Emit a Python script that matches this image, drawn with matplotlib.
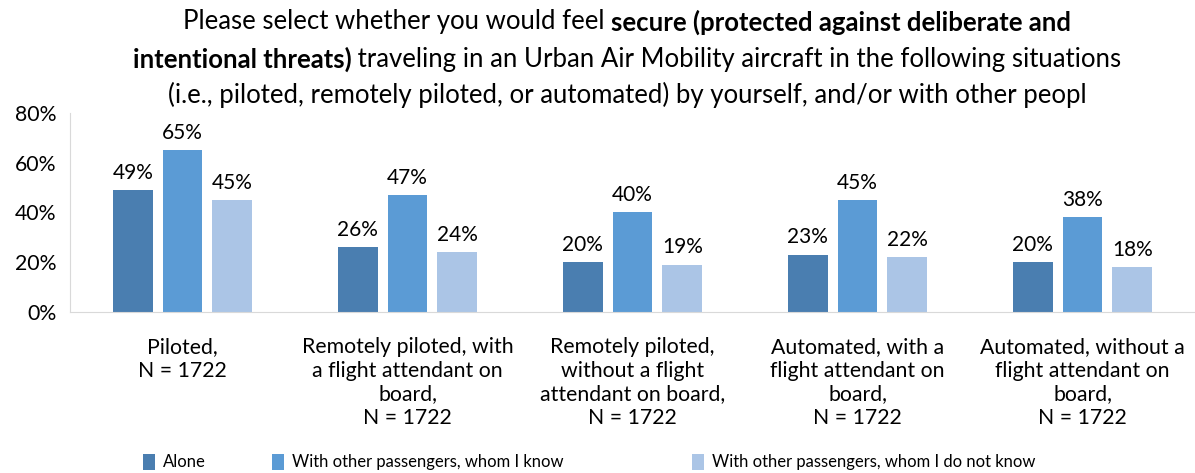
import numpy as np
import matplotlib.pyplot as plt

plt.rcParams['font.family'] = ['Lato', 'DejaVu Sans']

categories = ["Piloted,\nN = 1722",
              "Remotely piloted, with\na flight attendant on\nboard,\nN = 1722",
              "Remotely piloted,\nwithout a flight\nattendant on board,\nN = 1722",
              "Automated, with a\nflight attendant on\nboard,\nN = 1722",
              "Automated, without a\nflight attendant on\nboard,\nN = 1722"]
series_names = ["Alone", "With other passengers, whom I know",
                "With other passengers, whom I do not know"]
alone = [49, 26, 20, 23, 20]
know = [65, 47, 40, 45, 38]
not_know = [45, 24, 19, 22, 18]
colors = ["#4A7EB0", "#5B9BD5", "#ABC5E6"]

fig = plt.figure(figsize=(11.95, 4.73), dpi=100)
ax = fig.add_axes([0.0586, 0.3404, 0.9414, 0.4207])

x = np.arange(len(categories))
width = 0.177
step = 0.221
handles = []
for k, vals in enumerate([alone, know, not_know]):
    b = ax.bar(x + (k - 1) * step, vals, width, color=colors[k], label=series_names[k])
    handles.append(b)
    for xi, v in zip(x + (k - 1) * step, vals):
        ax.text(xi, v + 3.0, f"{v}%", ha='center', va='bottom', fontsize=15)

ax.set_xlim(-0.5, 4.5)
ax.set_ylim(0, 80)
ax.set_yticks([0, 20, 40, 60, 80])
ax.set_yticklabels([f"{t}%" for t in [0, 20, 40, 60, 80]], fontsize=15.3)
ax.set_xticks(x)
ax.set_xticklabels(categories, fontsize=15.3, linespacing=1.22)
ax.tick_params(length=0)
ax.tick_params(axis='y', pad=10)
ax.tick_params(axis='x', pad=18)
for s in ['top', 'right']:
    ax.spines[s].set_visible(False)
for s in ['left', 'bottom']:
    ax.spines[s].set_color('#D9D9D9')

# title with bold segments, laid out piece by piece
title_lines = [
    [("Please select whether you would feel ", 'normal'),
     ("secure (protected against deliberate and", 'bold')],
    [("intentional threats)", 'bold'),
     (" traveling in an Urban Air Mobility aircraft in the following situations", 'normal')],
    [("(i.e., piloted, remotely piloted, or automated) by yourself, and/or with other peopl", 'normal')],
]
renderer = fig.canvas.get_renderer()
cx = 627
line_y = [22, 59, 95]
for parts, yy in zip(title_lines, line_y):
    texts = [fig.text(0, 0, p, fontsize=18.5, fontweight=w, va='center') for p, w in parts]
    widths = [t.get_window_extent(renderer).width for t in texts]
    start = cx - sum(widths) / 2
    for t, wd in zip(texts, widths):
        t.set_position((start / 1195, 1 - yy / 473))
        start += wd

# one legend per series so each entry sits at its own x
legend_x = [143, 272, 692]
for h, name, lx in zip(handles, series_names, legend_x):
    leg = fig.legend(handles=[h], labels=[name], loc='center left',
                     bbox_to_anchor=(lx / 1195, 1 - 462 / 473), frameon=False,
                     fontsize=12, handlelength=0.7, handleheight=1.1,
                     handletextpad=0.5, borderpad=0, borderaxespad=0)

fig.savefig("out.png", dpi=100)
